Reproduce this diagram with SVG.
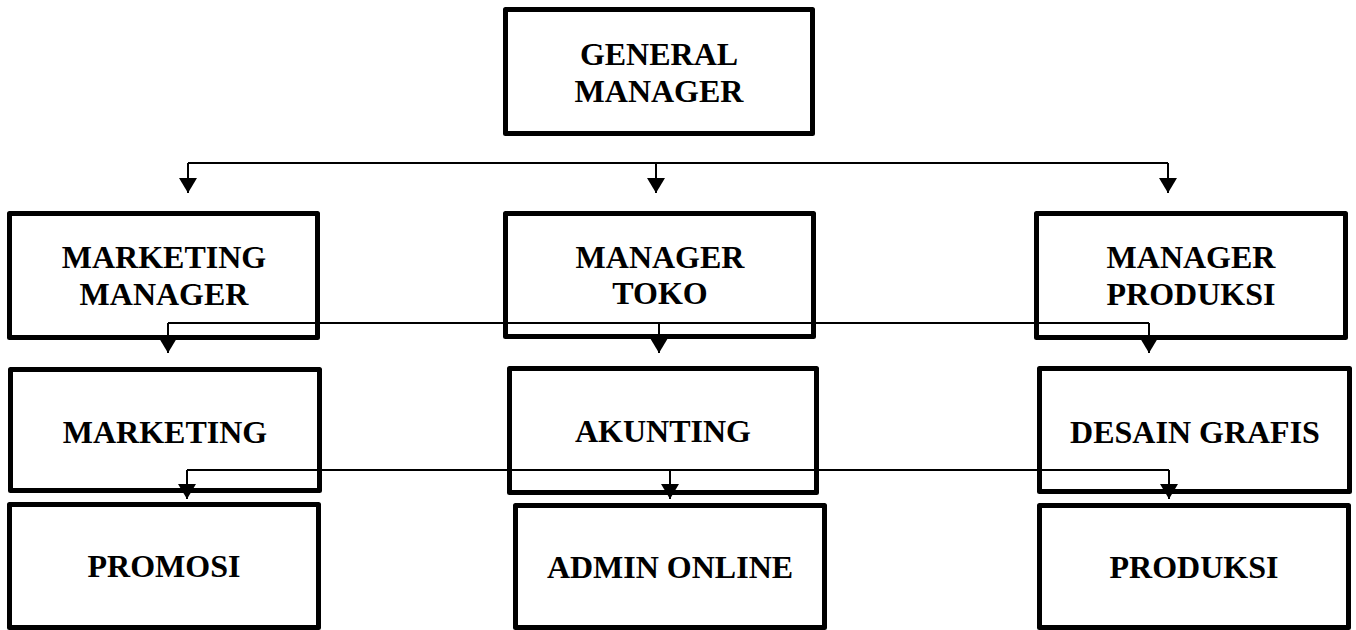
<svg xmlns="http://www.w3.org/2000/svg" width="1356" height="630" viewBox="0 0 1356 630">
<style>
.box{fill:#fff;stroke:#000;stroke-width:5;stroke-linejoin:round}
.t{font-family:"Liberation Serif","Times New Roman",serif;font-weight:bold;font-size:32px;fill:#000;text-anchor:middle}
.c{fill:none;stroke:#000;stroke-width:2}
.ah{fill:#000;stroke:none}
</style>
<defs>
<marker id="arr" markerUnits="userSpaceOnUse" markerWidth="16" markerHeight="18" refX="15" refY="9" orient="auto" viewBox="0 0 16 18">
<path d="M0,0 L15,9 L0,18 Z" class="ah"/>
</marker>
</defs>
<rect width="1356" height="630" fill="#fff"/>
<g id="general-manager"><rect class="box" x="505.5" y="9.5" width="307" height="124"/><text class="t" x="659" y="65">GENERAL</text><text class="t" x="659" y="102">MANAGER</text></g>
<g id="marketing-manager"><rect class="box" x="9.5" y="213.5" width="308" height="124"/><text class="t" x="164" y="268">MARKETING</text><text class="t" x="164" y="305">MANAGER</text></g>
<g id="manager-toko"><rect class="box" x="505.5" y="213.5" width="308" height="123"/><text class="t" x="660" y="268">MANAGER</text><text class="t" x="660" y="304">TOKO</text></g>
<g id="manager-produksi"><rect class="box" x="1036.5" y="213.5" width="309" height="124"/><text class="t" x="1191" y="268">MANAGER</text><text class="t" x="1191" y="305">PRODUKSI</text></g>
<g id="marketing"><rect class="box" x="10.5" y="369.5" width="309" height="121"/><text class="t" x="165" y="443">MARKETING</text></g>
<g id="akunting"><rect class="box" x="509.5" y="368.5" width="307" height="124"/><text class="t" x="663" y="442">AKUNTING</text></g>
<g id="desain-grafis"><rect class="box" x="1039.5" y="368.5" width="310" height="123"/><text class="t" x="1195" y="443">DESAIN GRAFIS</text></g>
<g id="promosi"><rect class="box" x="9.5" y="504.5" width="309" height="123"/><text class="t" x="164" y="577">PROMOSI</text></g>
<g id="admin-online"><rect class="box" x="515.5" y="505.5" width="309" height="122"/><text class="t" x="670" y="578">ADMIN ONLINE</text></g>
<g id="produksi"><rect class="box" x="1039.5" y="505.5" width="309" height="122"/><text class="t" x="1194" y="578">PRODUKSI</text></g>
<g id="connectors">
<path class="c" d="M188,163 H1168"/>
<path class="c" d="M188,163 V193" marker-end="url(#arr)"/>
<path class="c" d="M656,163 V193" marker-end="url(#arr)"/>
<path class="c" d="M1168,163 V193" marker-end="url(#arr)"/>
<path class="c" d="M168,323 H1149"/>
<path class="c" d="M168,323 V353" marker-end="url(#arr)"/>
<path class="c" d="M659,323 V353" marker-end="url(#arr)"/>
<path class="c" d="M1149,323 V353" marker-end="url(#arr)"/>
<path class="c" d="M187,470 H1169"/>
<path class="c" d="M187,470 V499" marker-end="url(#arr)"/>
<path class="c" d="M670,470 V499" marker-end="url(#arr)"/>
<path class="c" d="M1169,470 V499" marker-end="url(#arr)"/>
</g>
</svg>
